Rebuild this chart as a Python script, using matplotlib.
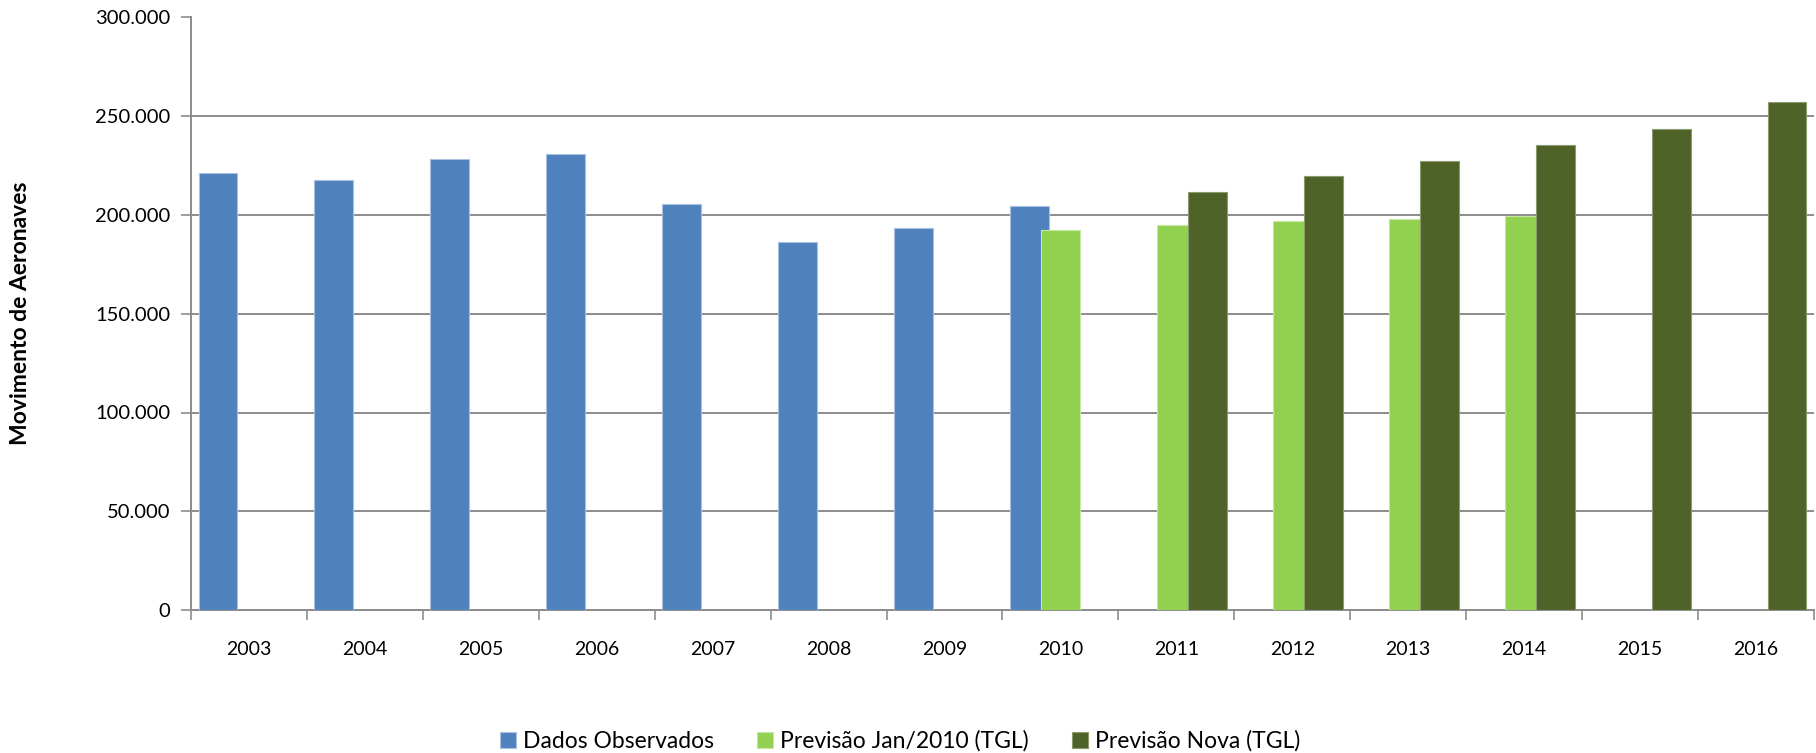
import numpy as np
import matplotlib
matplotlib.use("Agg")
import matplotlib.pyplot as plt
from matplotlib.ticker import FuncFormatter, FixedLocator

plt.rcParams['font.family'] = ['Lato', 'DejaVu Sans']

years = ['2003', '2004', '2005', '2006', '2007', '2008', '2009',
         '2010', '2011', '2012', '2013', '2014', '2015', '2016']
nan = np.nan
dados_observados = [221300, 217900, 228400, 230900, 205600, 186300, 193400,
                    204600, nan, nan, nan, nan, nan, nan]
previsao_jan2010 = [nan, nan, nan, nan, nan, nan, nan,
                    192400, 195100, 196800, 197800, 199600, nan, nan]
previsao_nova = [nan, nan, nan, nan, nan, nan, nan,
                 nan, 211700, 219600, 227500, 235300, 243300, 257300]
series_names = ['Dados Observados', 'Previsão Jan/2010 (TGL)', 'Previsão Nova (TGL)']
colors = ['#4F81BD', '#92D050', '#4F6228']
edges = ['#A9C2E2', '#C6E8A4', '#8A9A6E']

W, H = 1816, 753
fig = plt.figure(figsize=(W / 100, H / 100), dpi=100)
ax = fig.add_axes([191 / W, 1 - 610 / H, (1814 - 191) / W, (610 - 17.5) / H])

x = np.arange(len(years))
width = 0.336
step = 0.267
for i, (vals, c, ec) in enumerate(zip([dados_observados, previsao_jan2010, previsao_nova], colors, edges)):
    ax.bar(x + (i - 1) * step, vals, width, color=c, edgecolor=ec, linewidth=0.8,
           label=series_names[i], zorder=3 + i)

ax.set_xlim(-0.5, len(years) - 0.5)
ax.set_ylim(0, 300000)
ax.set_yticks(np.arange(0, 300001, 50000))
ax.yaxis.set_major_formatter(FuncFormatter(lambda v, p: f"{int(v):,}".replace(',', '.')))
ax.yaxis.grid(True, color='#8C8C8C', linewidth=1.4, zorder=0)
ax.set_axisbelow(True)

ax.set_xticks(x)
ax.set_xticklabels(years)
ax.xaxis.set_minor_locator(FixedLocator(np.arange(-0.5, len(years), 1.0)))
ax.tick_params(axis='x', which='major', length=0, pad=22, labelsize=14, colors='black')
ax.tick_params(axis='x', which='minor', length=7, width=1.2, color='#8C8C8C', direction='out')
ax.tick_params(axis='y', which='major', length=7, width=1.2, color='#8C8C8C', labelsize=14.5, pad=8)

for s in ['top', 'right']:
    ax.spines[s].set_visible(False)
for s in ['left', 'bottom']:
    ax.spines[s].set_color('#8C8C8C')
    ax.spines[s].set_linewidth(1.4)

fig.text(21 / W, 1 - 313 / H, 'Movimento de Aeronaves', rotation=90, ha='center', va='center',
         fontsize=16.5, fontweight='bold')

handles, labels = ax.get_legend_handles_labels()
fig.legend(handles, labels, loc='center', bbox_to_anchor=(900 / W, 1 - 741 / H), ncol=3,
           frameon=False, fontsize=16.5, handlelength=0.7, handleheight=0.7,
           handletextpad=0.3, columnspacing=1.9)

fig.savefig('out.png', dpi=100)
